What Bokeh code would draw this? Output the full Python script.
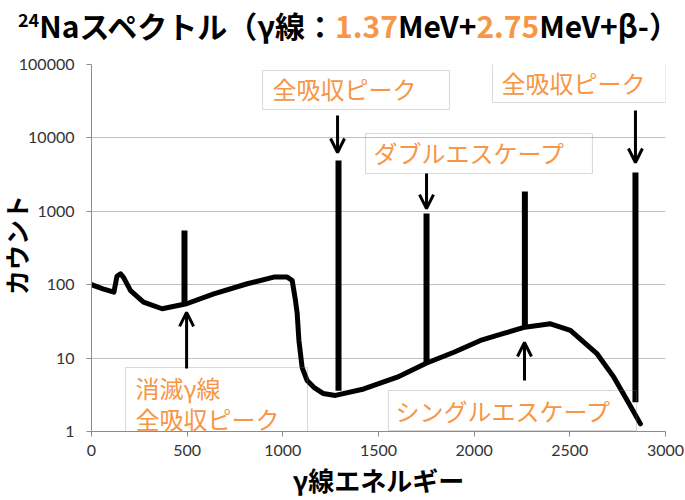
from bokeh.plotting import figure
from bokeh.layouts import column
from bokeh.models import (Div, Range1d, FixedTicker, Label, BoxAnnotation,
                          Arrow, OpenHead)
from bokeh.embed import file_html
from bokeh.resources import INLINE

# ---- data ----
energy = [0, 60, 117, 133, 152, 168, 204, 272, 369, 497, 639, 814, 953, 1023,
          1049, 1066, 1075, 1084, 1101, 1127, 1162, 1210, 1275, 1423, 1598,
          1749, 1894, 2033, 2150, 2265, 2399, 2503, 2643, 2730, 2800, 2869]
counts = [100, 88, 79, 130, 141, 125, 83, 58, 47, 55, 75, 103, 127, 127,
          114, 61, 40.5, 17.4, 7.4, 4.95, 4.0, 3.3, 3.1, 3.8, 5.5,
          8.5, 12.0, 17.4, 21.5, 26.4, 29.3, 23.8, 11.4, 5.5, 2.64, 1.27]

peak_energy = [486, 1291, 1751, 2265, 2843]
peak_top = [548, 4920, 933, 1860, 3380]
peak_base = [52, 3.6, 8.7, 26, 2.5]

x_ticks = [0, 500, 1000, 1500, 2000, 2500, 3000]
y_ticks = [1, 10, 100, 1000, 10000, 100000]
y_tick_labels = ["1", "10", "100", "1000", "10000", "100000"]

ORANGE = "#F79646"
JP = "Noto Sans CJK JP"

# ---- title (and y-axis title, placed in the left margin) ----
title_html = (
    '<div style="position:absolute; left:18px; top:5px; white-space:nowrap; '
    'font-family:\'Noto Sans CJK JP\'; font-size:30px; font-weight:bold; '
    'line-height:40px; color:#000;">'
    '<span style="font-size:18px; position:relative; top:-11px;">24</span>'
    'Naスペクトル（γ線：<span style="color:%s">1.37</span>MeV+'
    '<span style="color:%s">2.75</span>MeV+β-）</div>'
    '<div style="position:absolute; left:-44px; top:230px; width:120px; '
    'height:30px; line-height:30px; text-align:center; '
    'transform:rotate(-90deg); white-space:nowrap; '
    'font-family:\'Noto Sans CJK JP\'; font-size:25px; font-weight:bold; '
    'color:#000;">カウント</div>' % (ORANGE, ORANGE)
)
div = Div(text=title_html, width=685, height=46, margin=(0, 0, 0, 0),
          styles={"position": "relative", "z-index": "10",
                  "overflow": "visible"})

# ---- figure ----
p = figure(width=685, height=454, y_axis_type="log",
           x_range=Range1d(0, 3000), y_range=Range1d(1, 100000),
           output_backend="svg", toolbar_location=None,
           min_border_left=91, min_border_right=20,
           min_border_top=18, min_border_bottom=69)
p.outline_line_color = None
p.background_fill_color = "white"
p.border_fill_color = None

p.xgrid.grid_line_color = None
p.ygrid.grid_line_color = "#BFBFBF"
p.ygrid.grid_line_width = 1
p.ygrid.ticker = FixedTicker(ticks=y_ticks)

p.xaxis.ticker = FixedTicker(ticks=x_ticks)
p.yaxis.ticker = FixedTicker(ticks=y_ticks)
p.yaxis.major_label_overrides = {t: s for t, s in zip(y_ticks, y_tick_labels)}

for ax in (p.xaxis, p.yaxis):
    ax.axis_line_color = "#8C8C8C"
    ax.major_tick_line_color = "#8C8C8C"
    ax.major_tick_out = 5
    ax.major_tick_in = 0
    ax.minor_tick_line_color = None
    ax.major_label_text_font = "Lato"
    ax.major_label_text_font_size = "16px"
    ax.major_label_text_color = "#333333"

p.yaxis.major_label_standoff = 12

p.xaxis.major_label_standoff = 8
p.xaxis.axis_label = "γ線エネルギー"
p.xaxis.axis_label_text_font = JP
p.xaxis.axis_label_text_font_size = "26px"
p.xaxis.axis_label_text_font_style = "bold"
p.xaxis.axis_label_text_color = "black"
p.xaxis.axis_label_standoff = 2

# ---- spectrum ----
p.line(energy, counts, line_color="black", line_width=5, line_join="round",
       line_cap="round")
p.segment(x0=peak_energy, y0=peak_base, x1=peak_energy, y1=peak_top,
          line_color="black", line_width=6)

# ---- annotation boxes ----
boxes = [
    (894, 1871, 82800, 24400),
    (2096, 3000, 106400, 30350),
    (1432, 2618, 11480, 3273),
    (178, 1129, 7.45, 0.754),
    (1552, 2848, 3.62, 1.03),
]
for l, r, t, b in boxes:
    p.add_layout(BoxAnnotation(left=l, right=r, top=t, bottom=b,
                               fill_alpha=0, line_color="#7F7F7F",
                               line_width=1))

texts = [
    (946, 47100, "全吸収ピーク"),
    (2143, 56900, "全吸収ピーク"),
    (1474, 6324, "ダブルエスケープ"),
    (230, 3.98, "消滅γ線"),
    (230, 1.50, "全吸収ピーク"),
    (1589, 1.93, "シングルエスケープ"),
]
for x, y, t in texts:
    p.add_layout(Label(x=x, y=y, text=t, text_align="left",
                       text_baseline="middle", text_font=JP,
                       text_font_size="24px", text_color=ORANGE))

# ---- arrows ----
arrows = [
    (497, 7.2, 497, 42),
    (1286, 20200, 1286, 6330),
    (1751, 3270, 1751, 1090),
    (2263, 4.95, 2263, 16.3),
    (2843, 23600, 2843, 4620),
]
for x0, y0, x1, y1 in arrows:
    p.add_layout(Arrow(x_start=x0, y_start=y0, x_end=x1, y_end=y1,
                       line_color="black", line_width=3,
                       end=OpenHead(size=14, line_width=3,
                                    line_color="black")))

layout = column(div, p, spacing=0)
open("out.html", "w").write(file_html(layout, INLINE))
